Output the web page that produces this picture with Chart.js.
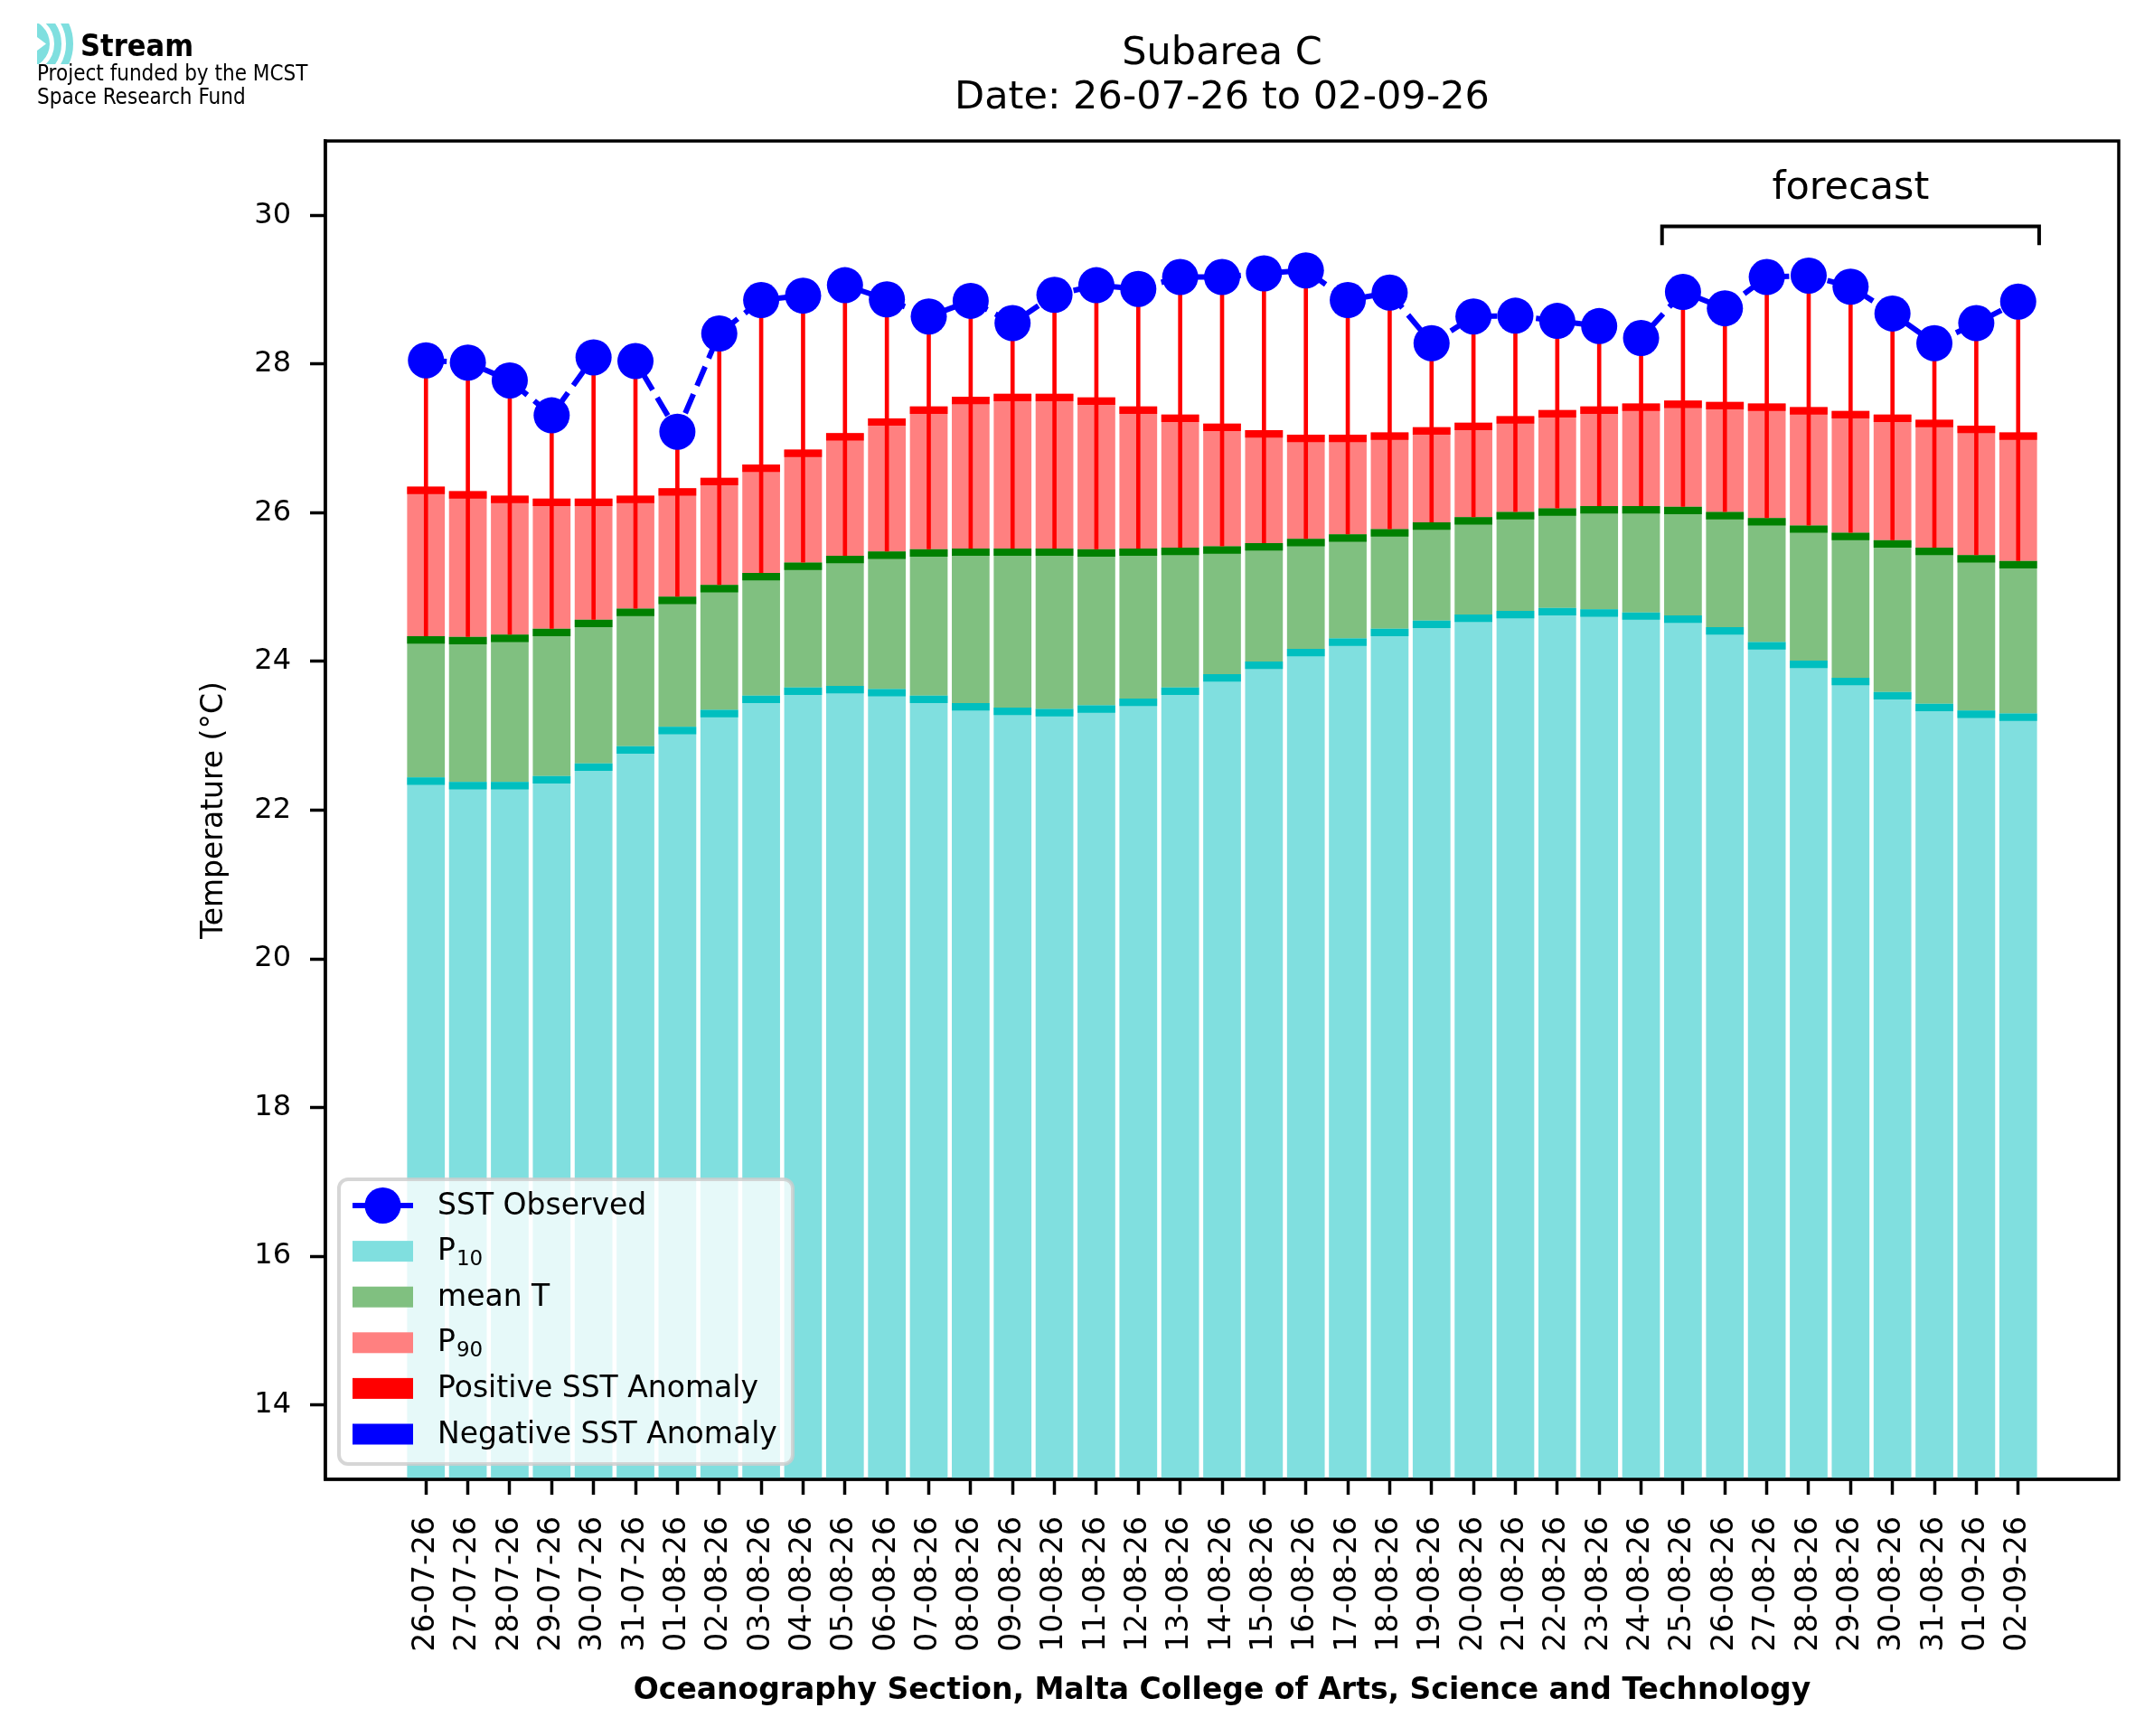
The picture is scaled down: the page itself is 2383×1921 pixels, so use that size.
<!DOCTYPE html>
<html>
<head>
<meta charset="utf-8">
<script src="https://cdn.jsdelivr.net/npm/chart.js@4.4.1/dist/chart.umd.min.js"></script>
<style>
  html, body { margin: 0; padding: 0; background: #fff; }
  canvas { display: block; }
</style>
</head>
<body>
<canvas id="sstChart" width="2383" height="1921"></canvas>
<script>
const dateLabels = [
  "26-07-26", "27-07-26", "28-07-26", "29-07-26", "30-07-26", "31-07-26",
  "01-08-26", "02-08-26", "03-08-26", "04-08-26", "05-08-26", "06-08-26",
  "07-08-26", "08-08-26", "09-08-26", "10-08-26", "11-08-26", "12-08-26",
  "13-08-26", "14-08-26", "15-08-26", "16-08-26", "17-08-26", "18-08-26",
  "19-08-26", "20-08-26", "21-08-26", "22-08-26", "23-08-26", "24-08-26",
  "25-08-26", "26-08-26", "27-08-26", "28-08-26", "29-08-26", "30-08-26",
  "31-08-26", "01-09-26", "02-09-26"
];

const sstObserved = [
  28.05, 28.02, 27.78, 27.31, 28.09, 28.04, 27.09, 28.41, 28.86, 28.92,
  29.06, 28.87, 28.64, 28.85, 28.55, 28.93, 29.06, 29.01, 29.17, 29.17,
  29.22, 29.26, 28.86, 28.96, 28.28, 28.64, 28.65, 28.58, 28.51, 28.35,
  28.97, 28.75, 29.17, 29.19, 29.04, 28.68, 28.28, 28.55, 28.84
];

const p10 = [
  22.44, 22.38, 22.38, 22.46, 22.63, 22.86, 23.12, 23.35, 23.54, 23.65,
  23.67, 23.63, 23.54, 23.44, 23.38, 23.36, 23.41, 23.50, 23.65, 23.83,
  24.00, 24.17, 24.31, 24.44, 24.55, 24.63, 24.68, 24.72, 24.70, 24.66,
  24.62, 24.46, 24.26, 24.01, 23.78, 23.59, 23.43, 23.34, 23.30
];

const meanT = [
  24.34, 24.33, 24.36, 24.44, 24.56, 24.71, 24.87, 25.03, 25.19, 25.33,
  25.42, 25.48, 25.51, 25.52, 25.52, 25.52, 25.51, 25.52, 25.53, 25.55,
  25.59, 25.65, 25.71, 25.78, 25.87, 25.94, 26.01, 26.06, 26.09, 26.09,
  26.08, 26.01, 25.93, 25.83, 25.73, 25.63, 25.53, 25.43, 25.35
];

const p90 = [
  26.35, 26.29, 26.23, 26.19, 26.19, 26.23, 26.33, 26.47, 26.65, 26.85,
  27.07, 27.27, 27.43, 27.56, 27.60, 27.60, 27.55, 27.43, 27.32, 27.20,
  27.11, 27.05, 27.05, 27.08, 27.15, 27.21, 27.30, 27.38, 27.43, 27.47,
  27.51, 27.49, 27.47, 27.42, 27.37, 27.32, 27.25, 27.17, 27.08
];

const yTicks = [14, 16, 18, 20, 22, 24, 26, 28, 30];

const FONT = "'DejaVu Sans', sans-serif";
const BAND = 0.1;

// colours (matplotlib c / g / r at alpha .5 over white, plus the full ones)
const C_P10 = "#80dfdf", C_P10_EDGE = "#00bfbf";
const C_MEAN = "#80c080", C_MEAN_EDGE = "#008000";
const C_P90 = "#ff8080", C_P90_EDGE = "#ff0000";
const C_POS = "#ff0000", C_NEG = "#0000ff", C_SST = "#0000ff";

function floating(lo, hi) {
  return lo.map((v, i) => ({ x: i, y: [v, hi[i]] }));
}
function band(vals) {
  return vals.map((v, i) => ({ x: i, y: [v - BAND, v] }));
}

const posAnomaly = sstObserved.map((s, i) => s >= meanT[i] ? { x: i, y: [meanT[i], s] } : { x: i, y: null });
const negAnomaly = sstObserved.map((s, i) => s < meanT[i] ? { x: i, y: [s, meanT[i]] } : { x: i, y: null });

function barSet(data, color, order, pct) {
  return {
    type: "bar", data: data, backgroundColor: color, borderWidth: 0,
    barPercentage: pct, categoryPercentage: 1, order: order, stack: "s"
  };
}

const datasets = [
  {
    type: "line",
    label: "SST Observed",
    data: sstObserved.map((v, i) => ({ x: i, y: v })),
    borderColor: C_SST,
    backgroundColor: C_SST,
    borderWidth: 6,
    borderDash: [23, 10],
    pointRadius: 20,
    pointHoverRadius: 20,
    pointBorderWidth: 0,
    pointBackgroundColor: C_SST,
    tension: 0,
    order: 0
  },
  barSet(posAnomaly, C_POS, 1, 0.1),
  barSet(negAnomaly, C_NEG, 1, 0.1),
  barSet(band(p90), C_P90_EDGE, 2, 0.9),
  barSet(band(meanT), C_MEAN_EDGE, 2, 0.9),
  barSet(band(p10), C_P10_EDGE, 2, 0.9),
  barSet(floating(meanT, p90), C_P90, 3, 0.9),
  barSet(floating(p10, meanT), C_MEAN, 3, 0.9),
  barSet(p10.map((v, i) => ({ x: i, y: [0, v] })), C_P10, 3, 0.9)
];

// label: [main text, subscript]
const legendItems = [
  { label: ["SST Observed", ""], kind: "line", color: C_SST },
  { label: ["P", "10"], kind: "box", color: C_P10 },
  { label: ["mean T", ""], kind: "box", color: C_MEAN },
  { label: ["P", "90"], kind: "box", color: C_P90 },
  { label: ["Positive SST Anomaly", ""], kind: "box", color: C_POS },
  { label: ["Negative SST Anomaly", ""], kind: "box", color: C_NEG }
];

function roundRect(ctx, x, y, w, h, r) {
  ctx.beginPath();
  ctx.moveTo(x + r, y);
  ctx.lineTo(x + w - r, y);
  ctx.arcTo(x + w, y, x + w, y + r, r);
  ctx.lineTo(x + w, y + h - r);
  ctx.arcTo(x + w, y + h, x + w - r, y + h, r);
  ctx.lineTo(x + r, y + h);
  ctx.arcTo(x, y + h, x, y + h - r, r);
  ctx.lineTo(x, y + r);
  ctx.arcTo(x, y, x + r, y, r);
  ctx.closePath();
}

function drawLogo(ctx) {
  ctx.save();
  ctx.beginPath();
  ctx.rect(41, 26, 44, 45);
  ctx.clip();
  ctx.fillStyle = "#7fdfdf";
  ctx.beginPath();
  ctx.arc(28, 48.5, 27, 0, Math.PI * 2);
  ctx.fill();
  ctx.strokeStyle = "#7fdfdf";
  ctx.lineWidth = 8;
  ctx.beginPath();
  ctx.arc(28, 48.5, 36, -Math.PI / 2, Math.PI / 2);
  ctx.stroke();
  ctx.beginPath();
  ctx.arc(28, 48.5, 49, -Math.PI / 2, Math.PI / 2);
  ctx.stroke();
  ctx.fillStyle = "#fff";
  ctx.beginPath();
  ctx.moveTo(41, 41);
  ctx.lineTo(51, 48.5);
  ctx.lineTo(41, 56);
  ctx.closePath();
  ctx.fill();
  ctx.restore();

  ctx.save();
  ctx.fillStyle = "#000";
  ctx.textAlign = "left";
  ctx.textBaseline = "alphabetic";
  ctx.font = "bold 34px 'DejaVu Sans Condensed', 'DejaVu Sans', sans-serif";
  ctx.fillText("Stream", 89, 62);
  ctx.font = "24px 'DejaVu Sans Condensed', 'DejaVu Sans', sans-serif";
  ctx.fillText("Project funded by the MCST", 41, 89);
  ctx.fillText("Space Research Fund", 41, 115);
  ctx.restore();
}

function noPad(s) {
  s.paddingLeft = 0;
  s.paddingRight = 0;
  s.paddingTop = 0;
  s.paddingBottom = 0;
}

const decorPlugin = {
  id: "decor",
  beforeDraw(chart) {
    const ctx = chart.ctx;
    ctx.save();
    ctx.fillStyle = "#fff";
    ctx.fillRect(0, 0, chart.width, chart.height);
    ctx.restore();
  },
  afterDraw(chart) {
    const ctx = chart.ctx;
    const a = chart.chartArea;
    const xs = chart.scales.x, ys = chart.scales.y;
    const cx = (a.left + a.right) / 2;

    // legend
    ctx.save();
    const lx = 375, ly = 1305, lw = 502, lh = 315;
    roundRect(ctx, lx, ly, lw, lh, 10);
    ctx.fillStyle = "rgba(255,255,255,0.8)";
    ctx.fill();
    ctx.lineWidth = 4;
    ctx.strokeStyle = "rgba(204,204,204,0.8)";
    ctx.stroke();
    ctx.textBaseline = "middle";
    ctx.textAlign = "left";
    legendItems.forEach((it, k) => {
      const yy = 1334 + k * 50.6;
      if (it.kind === "line") {
        ctx.strokeStyle = it.color;
        ctx.lineWidth = 6;
        ctx.beginPath();
        ctx.moveTo(390, yy);
        ctx.lineTo(457, yy);
        ctx.stroke();
        ctx.fillStyle = it.color;
        ctx.beginPath();
        ctx.arc(423.5, yy, 20, 0, Math.PI * 2);
        ctx.fill();
      } else {
        ctx.fillStyle = it.color;
        ctx.fillRect(390, yy - 11.5, 67, 23);
      }
      ctx.fillStyle = "#000";
      ctx.font = "33px " + FONT;
      ctx.fillText(it.label[0], 484, yy + 1);
      if (it.label[1]) {
        const w = ctx.measureText(it.label[0]).width;
        ctx.font = "23px " + FONT;
        ctx.fillText(it.label[1], 484 + w + 1, yy + 9);
      }
    });
    ctx.restore();

    // forecast bracket
    ctx.save();
    const bx0 = xs.getPixelForValue(29.5), bx1 = xs.getPixelForValue(38.5);
    const by = ys.getPixelForValue(29.85), byEnd = ys.getPixelForValue(29.6);
    ctx.strokeStyle = "#000";
    ctx.lineWidth = 4;
    ctx.beginPath();
    ctx.moveTo(bx0, byEnd);
    ctx.lineTo(bx0, by);
    ctx.lineTo(bx1, by);
    ctx.lineTo(bx1, byEnd);
    ctx.stroke();
    ctx.fillStyle = "#000";
    ctx.font = "43px " + FONT;
    ctx.textAlign = "center";
    ctx.textBaseline = "middle";
    ctx.fillText("forecast", xs.getPixelForValue(34), ys.getPixelForValue(30.36));
    ctx.restore();

    // top and right spines
    ctx.save();
    ctx.strokeStyle = "#000";
    ctx.lineWidth = 3.5;
    ctx.strokeRect(a.left, a.top, a.right - a.left, a.bottom - a.top);
    ctx.restore();

    // titles
    ctx.save();
    ctx.fillStyle = "#000";
    ctx.textAlign = "center";
    ctx.textBaseline = "middle";
    ctx.font = "43px " + FONT;
    ctx.fillText("Subarea C", cx, 60);
    ctx.fillText("Date: 26-07-26 to 02-09-26", cx, 109);
    ctx.font = "bold 33px " + FONT;
    ctx.fillText("Oceanography Section, Malta College of Arts, Science and Technology", cx, 1871);
    ctx.translate(237, (a.top + a.bottom) / 2);
    ctx.rotate(-Math.PI / 2);
    ctx.font = "33px " + FONT;
    ctx.fillText("Temperature (\u00b0C)", 0, 0);
    ctx.restore();

    drawLogo(ctx);
  }
};

new Chart(document.getElementById("sstChart"), {
  data: { datasets: datasets },
  options: {
    responsive: false,
    devicePixelRatio: 1,
    animation: false,
    events: [],
    layout: { autoPadding: false, padding: { top: 156, right: 39, left: 0, bottom: 0 } },
    plugins: { legend: { display: false }, title: { display: false }, tooltip: { enabled: false } },
    scales: {
      x: {
        type: "linear",
        stacked: true,
        offset: false,
        min: -2.4,
        max: 40.4,
        afterBuildTicks(s) { s.ticks = dateLabels.map((_, i) => ({ value: i })); },
        afterFit(s) { s.height = 284; noPad(s); },
        border: { display: true, color: "#000", width: 3.5 },
        grid: { display: true, offset: false, drawOnChartArea: false, drawTicks: true, tickLength: 17, tickWidth: 3.5, tickColor: "#000" },
        ticks: {
          autoSkip: false, maxRotation: 90, minRotation: 90, padding: 24,
          color: "#000", font: { family: FONT, size: 33 },
          callback: v => dateLabels[v]
        }
      },
      y: {
        type: "linear",
        stacked: false,
        min: 13,
        max: 31,
        afterBuildTicks(s) { s.ticks = yTicks.map(v => ({ value: v })); },
        afterFit(s) { s.width = 360; noPad(s); },
        border: { display: true, color: "#000", width: 3.5 },
        grid: { display: true, drawOnChartArea: false, drawTicks: true, tickLength: 17, tickWidth: 3.5, tickColor: "#000" },
        ticks: { padding: 21, color: "#000", font: { family: FONT, size: 32 } }
      }
    }
  },
  plugins: [decorPlugin]
});
</script>
</body>
</html>
